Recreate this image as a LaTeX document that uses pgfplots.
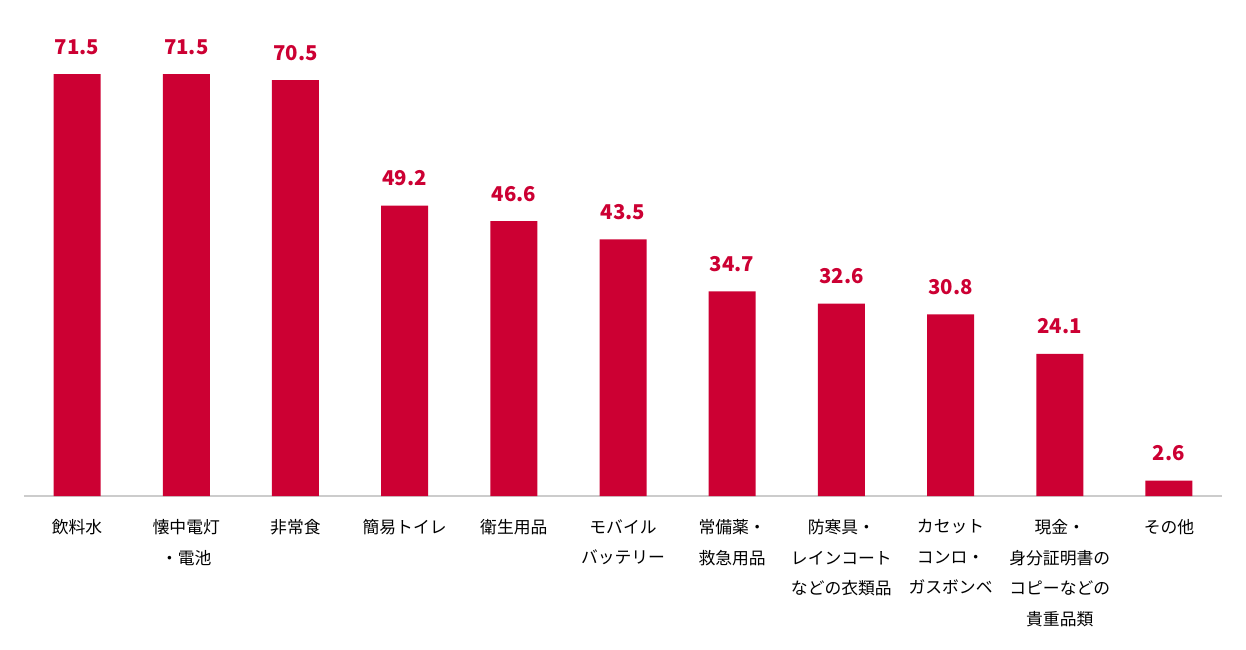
\documentclass[border=0pt]{standalone}
\usepackage{pgfplots}
\pgfplotsset{compat=1.18}
\usepackage{fontspec}
\setmainfont{Noto Sans CJK JP}
\definecolor{barred}{HTML}{CC0033}
\definecolor{axgray}{HTML}{CCCCCC}
\begin{document}
\begin{tikzpicture}
\begin{axis}[
  scale only axis,
  width=599pt, height=236pt,
  xmin=-0.486, xmax=10.486,
  ymin=0, ymax=80,
  axis x line=bottom, axis y line=none,
  x axis line style={axgray, line width=0.6pt, -},
  major tick length=0pt,
  clip=false,
  xtick={0,...,10},
  xticklabels={{飲料水}, {懐中電灯\\・電池}, {非常食}, {簡易トイレ}, {衛生用品}, {モバイル\\バッテリー}, {常備薬・\\救急用品}, {防寒具・\\レインコート\\などの衣類品}, {カセット\\コンロ・\\ガスボンベ}, {現金・\\身分証明書の\\コピーなどの\\貴重品類}, {その他}},
  xticklabel style={anchor=north, align=center, font=\fontsize{8.4}{15.3}\selectfont, inner sep=0pt, yshift=-11.5pt},
  ybar, bar width=23.5pt,
  nodes near coords,
  every node near coord/.append style={font=\bfseries\fontsize{10.2}{12}\selectfont, text=barred, anchor=base, yshift=10pt},
  nodes near coords style={/pgf/number format/.cd, fixed, fixed zerofill, precision=1, assume math mode=true},
]
\addplot[fill=barred, draw=none] coordinates {
(0,71.5) (1,71.5) (2,70.5) (3,49.2) (4,46.6) (5,43.5) (6,34.7) (7,32.6) (8,30.8) (9,24.1) (10,2.6)};
\coordinate (bl) at (rel axis cs:0,0);
\coordinate (tr) at (rel axis cs:1,1);
\end{axis}
\pgfresetboundingbox
\path[use as bounding box] ([shift={(-12pt,-76.5pt)}]bl) rectangle ([shift={(12pt,12pt)}]tr);
\end{tikzpicture}
\end{document}
